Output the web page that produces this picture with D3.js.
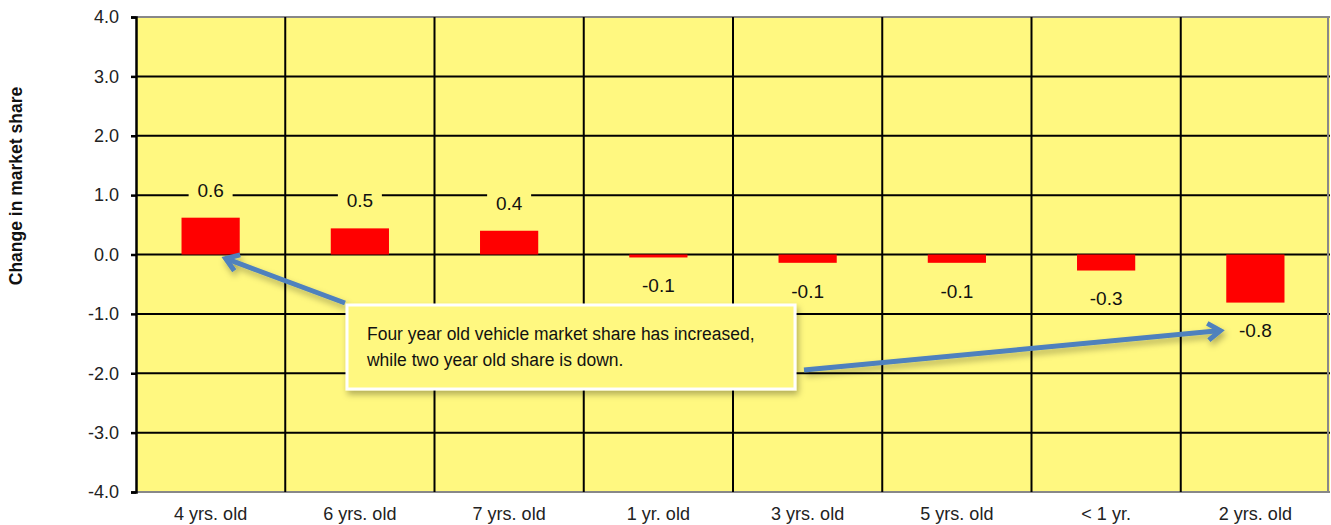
<!DOCTYPE html>
<html>
<head>
<meta charset="utf-8">
<script src="https://cdn.jsdelivr.net/npm/d3@7"></script>
<style>
  html, body { margin: 0; padding: 0; background: #fff; }
  #chart { width: 1331px; height: 525px; }
</style>
</head>
<body>
<div id="chart"></div>
<script>
// data
var categories = ["4 yrs. old", "6 yrs. old", "7 yrs. old", "1 yr. old", "3 yrs. old", "5 yrs. old", "< 1 yr.", "2 yrs. old"];
var shareChange = [0.62, 0.44, 0.40, -0.05, -0.14, -0.14, -0.27, -0.81];
var valueLabels = ["0.6", "0.5", "0.4", "-0.1", "-0.1", "-0.1", "-0.3", "-0.8"];
var yTicks = [-4, -3, -2, -1, 0, 1, 2, 3, 4];
var noteLines = ["Four year old vehicle market share has increased,", "while two year old share is down."];

function barChart({ id } = {}) {
    var div = document.getElementById(id);
    var divWidth = parseInt(window.getComputedStyle(div).getPropertyValue('width'));
    var divHeight = parseInt(window.getComputedStyle(div).getPropertyValue('height'));
    var padding = { left: 136, right: 1, top: 17, bottom: 33 };

    var plotWidth = divWidth - padding.left - padding.right;
    var plotHeight = divHeight - padding.top - padding.bottom;

    var plotFill = "#fff880";
    var arrowBlue = "#4f81bd";

    var x_scale = d3.scaleBand()
        .domain(categories)
        .range([0, plotWidth]);
    var y_scale = d3.scaleLinear()
        .domain([-4, 4])
        .range([plotHeight, 0]);
    var barWidth = x_scale.bandwidth() * 0.39;

    var svg = d3.select("#" + id)
        .append("svg")
        .attr("width", divWidth)
        .attr("height", divHeight);

    var defs = svg.append("defs");
    var shadow = defs.append("filter")
        .attr("id", "shadow")
        .attr("x", "-20%").attr("y", "-20%")
        .attr("width", "140%").attr("height", "160%");
    shadow.append("feDropShadow")
        .attr("dx", 2).attr("dy", 4)
        .attr("stdDeviation", 3)
        .attr("flood-color", "#000")
        .attr("flood-opacity", 0.3);

    var g = svg.append("g")
        .attr("transform", "translate(" + padding.left + "," + padding.top + ")");

    // plot background
    g.append("rect")
        .attr("width", plotWidth)
        .attr("height", plotHeight)
        .attr("fill", plotFill);

    // horizontal gridlines
    g.selectAll(".hgrid")
        .data(yTicks)
        .enter()
        .append("line")
        .attr("x1", 0)
        .attr("x2", plotWidth)
        .attr("y1", d => y_scale(d))
        .attr("y2", d => y_scale(d))
        .attr("stroke", d => (d === 4 || d === -4) ? "#888" : "#000")
        .attr("stroke-width", 2);

    // vertical category separators
    g.selectAll(".vgrid")
        .data(categories.slice(1))
        .enter()
        .append("line")
        .attr("x1", d => x_scale(d))
        .attr("x2", d => x_scale(d))
        .attr("y1", 0)
        .attr("y2", plotHeight)
        .attr("stroke", "#000")
        .attr("stroke-width", 2);

    // right border
    g.append("line")
        .attr("x1", plotWidth - 2).attr("x2", plotWidth - 2)
        .attr("y1", 0).attr("y2", plotHeight)
        .attr("stroke", "#888")
        .attr("stroke-width", 2);

    // bars
    g.selectAll(".bar")
        .data(shareChange)
        .enter()
        .append("rect")
        .attr("x", (d, i) => x_scale(categories[i]) + (x_scale.bandwidth() - barWidth) / 2)
        .attr("y", d => y_scale(Math.max(d, 0)))
        .attr("width", barWidth)
        .attr("height", d => Math.abs(y_scale(d) - y_scale(0)))
        .attr("fill", "#ff0000");

    // value labels with yellow boxes
    var labels = g.selectAll(".vlabel")
        .data(shareChange)
        .enter()
        .append("g")
        .attr("transform", (d, i) => "translate(" + (x_scale(categories[i]) + x_scale.bandwidth() / 2) + "," +
            (y_scale(d) + (d >= 0 ? -28 : 28)) + ")");
    labels.append("rect")
        .attr("x", -22)
        .attr("y", -14)
        .attr("width", 44)
        .attr("height", 28)
        .attr("fill", plotFill);
    labels.append("text")
        .attr("text-anchor", "middle")
        .attr("dy", "0.36em")
        .attr("font-family", "Liberation Sans, Arial, sans-serif")
        .attr("font-size", 19)
        .attr("fill", "#111")
        .text((d, i) => valueLabels[i]);

    // y axis
    var y_axis = d3.axisLeft(y_scale)
        .tickValues(yTicks)
        .tickSize(5)
        .tickPadding(12)
        .tickFormat(d => d.toFixed(1));
    var yAxisG = g.append("g").call(y_axis);
    yAxisG.select(".domain").attr("stroke", "#000").attr("stroke-width", 2.5);
    yAxisG.selectAll(".tick line").attr("stroke", "#000").attr("stroke-width", 2.5);
    yAxisG.selectAll(".tick text")
        .attr("font-family", "Liberation Sans, Arial, sans-serif")
        .attr("font-size", 18)
        .attr("fill", "#222");

    // x axis labels
    var x_axis = d3.axisBottom(x_scale)
        .tickSize(0)
        .tickPadding(15);
    var xAxisG = g.append("g")
        .attr("transform", "translate(0," + plotHeight + ")")
        .call(x_axis);
    xAxisG.select(".domain").remove();
    xAxisG.selectAll(".tick text")
        .attr("font-family", "Liberation Sans, Arial, sans-serif")
        .attr("font-size", 18)
        .attr("fill", "#222");

    // y axis title
    svg.append("text")
        .attr("transform", "translate(22,186) rotate(-90)")
        .attr("text-anchor", "middle")
        .attr("font-family", "Liberation Sans, Arial, sans-serif")
        .attr("font-weight", "bold")
        .attr("font-size", 17.5)
        .attr("fill", "#111")
        .text("Change in market share");

    // callout box
    var box = { x: 211, y: 288, w: 448, h: 84 };
    var arrowLayer = g.append("g").attr("filter", "url(#shadow)");

    function arrow(x1, y1, x2, y2) {
        var a = Math.atan2(y2 - y1, x2 - x1);
        var len = 15, spread = 0.6;
        arrowLayer.append("line")
            .attr("x1", x1).attr("y1", y1)
            .attr("x2", x2 - 2 * Math.cos(a)).attr("y2", y2 - 2 * Math.sin(a))
            .attr("stroke", arrowBlue)
            .attr("stroke-width", 5);
        arrowLayer.append("path")
            .attr("d", "M" + (x2 - len * Math.cos(a - spread)) + "," + (y2 - len * Math.sin(a - spread)) +
                "L" + x2 + "," + y2 +
                "L" + (x2 - len * Math.cos(a + spread)) + "," + (y2 - len * Math.sin(a + spread)))
            .attr("fill", "none")
            .attr("stroke", arrowBlue)
            .attr("stroke-width", 5)
            .attr("stroke-linejoin", "miter");
    }

    var first = categories[0], last = categories[categories.length - 1];
    arrow(box.x - 2, box.y - 2,
        x_scale(first) + x_scale.bandwidth() / 2 + 15, y_scale(0) + 4);
    arrow(box.x + box.w + 9, box.y + 65,
        x_scale(last) + x_scale.bandwidth() / 2 - 35, y_scale(shareChange[shareChange.length - 1]) + 28);

    g.append("rect")
        .attr("x", box.x)
        .attr("y", box.y)
        .attr("width", box.w)
        .attr("height", box.h)
        .attr("fill", plotFill)
        .attr("stroke", "#fff")
        .attr("stroke-width", 3)
        .attr("filter", "url(#shadow)");

    // narrow-looking note text: slight horizontal squeeze
    g.append("g")
        .attr("transform", "translate(" + (box.x + 20) + "," + (box.y + 35) + ") scale(0.92,1)")
        .append("text")
        .attr("font-family", "Liberation Sans, Arial, sans-serif")
        .attr("font-size", 19)
        .attr("fill", "#111")
        .selectAll("tspan")
        .data(noteLines)
        .enter()
        .append("tspan")
        .attr("x", 0)
        .attr("y", (d, i) => i * 26)
        .text(d => d);

    return svg;
}

barChart({ id: "chart" });
</script>
</body>
</html>
